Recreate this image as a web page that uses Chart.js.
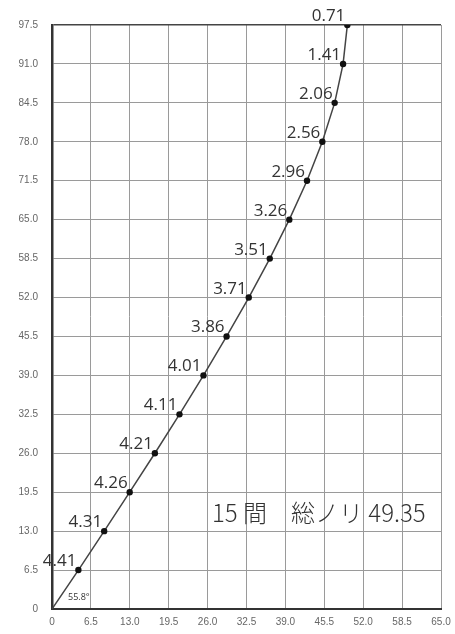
<!DOCTYPE html>
<html>
<head>
<meta charset="utf-8">
<script src="https://cdn.jsdelivr.net/npm/chart.js@4/dist/chart.umd.min.js"></script>
<style>
  body { margin: 0; overflow: hidden; background: #fff; }
  #chart { display: block; }
</style>
</head>
<body>
<canvas id="chart" width="460" height="634"></canvas>
<script>
// nori per step (labels at each point)
const noriLabels = ['4.41', '4.31', '4.26', '4.21', '4.11', '4.01', '3.86', '3.71', '3.51', '3.26', '2.96', '2.56', '2.06', '1.41', '0.71']
// point positions, first one is the origin
const xValues = [0, 4.41, 8.72, 12.98, 17.19, 21.30, 25.31, 29.17, 32.88, 36.39, 39.65, 42.61, 45.17, 47.23, 48.64, 49.35]
const yValues = [0, 6.5, 13.0, 19.5, 26.0, 32.5, 39.0, 45.5, 52.0, 58.5, 65.0, 71.5, 78.0, 84.5, 91.0, 97.5]
const xTicks = [0, 6.5, 13.0, 19.5, 26.0, 32.5, 39.0, 45.5, 52.0, 58.5, 65.0]
const yTicks = [0, 6.5, 13.0, 19.5, 26.0, 32.5, 39.0, 45.5, 52.0, 58.5, 65.0, 71.5, 78.0, 84.5, 91.0, 97.5]
const angleText = '55.8°'
const titleText = '15 間　総ノリ 49.35'

let chartCanv = document.querySelector('#chart')

const points = xValues.map((x, i) => ({ x: x, y: yValues[i] }))

function tickText(v) {
    return v === 0 ? '0' : v.toFixed(1)
}

//draws the nori labels + angle + big text
const labelPlugin = {
    id: 'labelPlugin',
    afterDatasetsDraw(chart) {
        const ctx = chart.ctx
        const meta = chart.getDatasetMeta(0)
        ctx.save()
        ctx.fillStyle = '#333'
        ctx.font = '17px "Open Sans"'
        ctx.textAlign = 'right'
        ctx.textBaseline = 'alphabetic'
        meta.data.forEach((pt, i) => {
            if (i === 0) return
            ctx.fillText(noriLabels[i - 1], pt.x - 2, pt.y - 4)
        })

        const ox = chart.scales.x.getPixelForValue(0)
        const oy = chart.scales.y.getPixelForValue(0)
        ctx.font = '9px "Open Sans"'
        ctx.textAlign = 'left'
        ctx.fillText(angleText, ox + 16, oy - 9)

        const area = chart.chartArea
        ctx.font = '300 24px "Noto Sans CJK JP"'
        ctx.textBaseline = 'middle'
        ctx.fillText(titleText, area.left + 160, area.bottom - 96)
        ctx.restore()
    }
}

const config = {
    type: 'scatter',
    data: {
        datasets: [{
            data: points,
            showLine: true,
            borderColor: '#444',
            borderWidth: 1.5,
            backgroundColor: '#111',
            pointBackgroundColor: '#111',
            pointBorderWidth: 0,
            pointRadius: points.map((p, i) => i === 0 ? 0 : 3.2),
            tension: 0
        }]
    },
    options: {
        responsive: false,
        animation: false,
        layout: { padding: { top: 25, right: 19, left: 0, bottom: 0 } },
        plugins: {
            legend: { display: false },
            tooltip: { enabled: false }
        },
        scales: {
            x: {
                type: 'linear',
                min: 0,
                max: 65,
                afterBuildTicks: scale => { scale.ticks = xTicks.map(v => ({ value: v })) },
                afterFit: scale => { scale.height = 25 },
                grid: { color: '#9a9a9a', lineWidth: 1, drawTicks: false },
                border: { color: '#333', width: 2 },
                ticks: {
                    padding: 7,
                    color: '#666',
                    font: { size: 10, family: '"Liberation Sans"' },
                    maxRotation: 0,
                    callback: v => tickText(v)
                }
            },
            y: {
                type: 'linear',
                min: 0,
                max: 97.5,
                afterBuildTicks: scale => { scale.ticks = yTicks.map(v => ({ value: v })) },
                afterFit: scale => { scale.width = 52 },
                grid: {
                    color: ctx => ctx.tick && ctx.tick.value === 97.5 ? '#444' : '#9a9a9a',
                    lineWidth: ctx => ctx.tick && ctx.tick.value === 97.5 ? 1.5 : 1,
                    drawTicks: false
                },
                border: { color: '#333', width: 2.5 },
                ticks: {
                    padding: 14,
                    color: '#666',
                    font: { size: 10, family: '"Liberation Sans"' },
                    callback: v => tickText(v)
                }
            }
        }
    },
    plugins: [labelPlugin]
}

let chartX = new Chart(chartCanv, config)
</script>
</body>
</html>
